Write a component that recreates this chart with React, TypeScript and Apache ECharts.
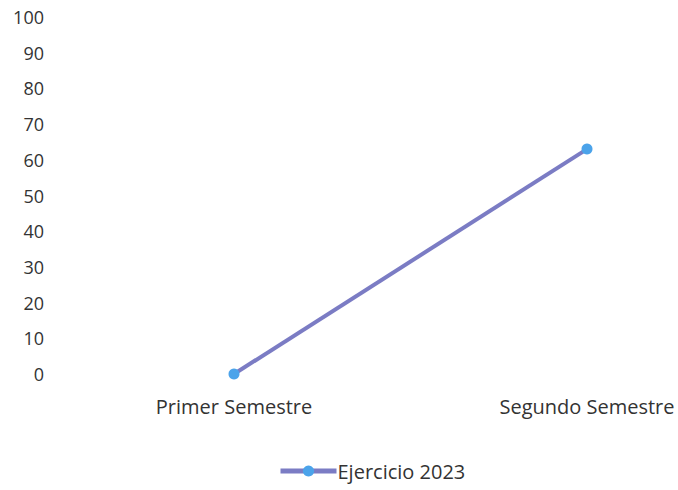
import React, { useEffect, useRef } from "react";
import * as echarts from "echarts";

const categories = ["Primer Semestre", "Segundo Semestre"];
const seriesName = "Ejercicio 2023";
const values = [0, 63];
const yMin = 0;
const yMax = 100;
const yInterval = 10;

export default function App() {
  const ref = useRef<HTMLDivElement>(null);
  useEffect(() => {
    if (!ref.current) return;
    const chart = echarts.init(ref.current, null, { renderer: "svg" });
    const font = "'Open Sans', sans-serif";
    chart.setOption({
      animation: false,
      backgroundColor: "#ffffff",
      grid: { left: 234, right: 91, top: 17, bottom: 116, containLabel: false },
      xAxis: {
        type: "category",
        data: categories,
        boundaryGap: false,
        axisLine: { show: false },
        axisTick: { show: false },
        splitLine: { show: false },
        axisLabel: {
          color: "#333333",
          fontFamily: font,
          fontSize: 20,
          margin: 22,
        },
      },
      yAxis: {
        type: "value",
        min: yMin,
        max: yMax,
        interval: yInterval,
        axisLine: { show: false },
        axisTick: { show: false },
        splitLine: { show: false },
        axisLabel: {
          color: "#333333",
          fontFamily: font,
          fontSize: 18,
          margin: 190,
          align: "right",
        },
      },
      legend: {
        left: 278,
        top: 461,
        padding: 0,
        itemWidth: 56,
        itemHeight: 14,
        itemGap: 4,
        lineStyle: { width: 5 },
        textStyle: { color: "#333333", fontFamily: font, fontSize: 20, padding: [0, 0, 0, -4] },
        data: [seriesName],
      },
      series: [
        {
          name: seriesName,
          type: "line",
          data: values,
          symbol: "circle",
          symbolSize: 11,
          lineStyle: { color: "#7b7cc4", width: 4 },
          itemStyle: { color: "#4ba3ea" },
        },
      ],
    });
    return () => chart.dispose();
  }, []);
  return <div ref={ref} style={{ width: 678, height: 490, position: "absolute", left: 0, top: 0 }} />;
}
